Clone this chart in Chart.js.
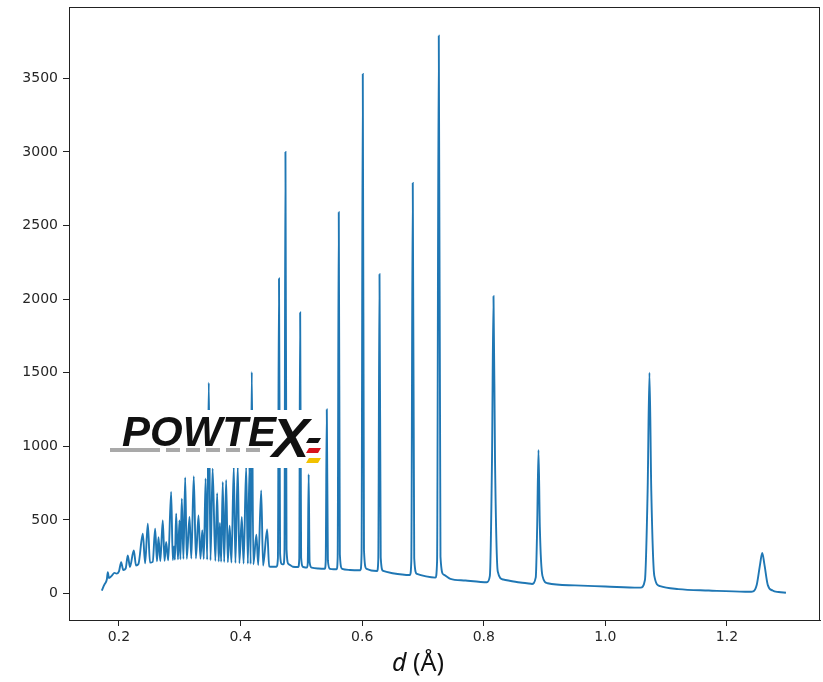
<!DOCTYPE html>
<html>
<head>
<meta charset="utf-8">
<script src="https://cdn.jsdelivr.net/npm/chart.js@4/dist/chart.umd.min.js"></script>
<style>
  body { margin: 0; background: #fff; }
  #wrap { width: 823px; height: 682px; }
</style>
</head>
<body>
<div id="wrap"><canvas id="chart" width="823" height="682"></canvas></div>
<script>
// DATA — d spacing (Å) and counts
const dSpacing = [
  // dense low-d part
  0.1717, 0.176, 0.18, 0.1816, 0.1835, 0.188, 0.1926, 0.196, 0.2, 0.2036,
  0.207, 0.211, 0.2145, 0.218, 0.2244, 0.228, 0.232, 0.2392, 0.243, 0.2474,
  0.251, 0.2555, 0.2595, 0.2625, 0.265, 0.268, 0.272, 0.275, 0.2776, 0.281,
  0.2858, 0.2885, 0.2905, 0.292, 0.294, 0.297, 0.2995, 0.301, 0.3033, 0.306,
  0.3089, 0.3115, 0.316, 0.319, 0.323, 0.3265, 0.3308, 0.334, 0.337, 0.3395,
  0.3425, 0.345, 0.3477, 0.3505, 0.354, 0.3585, 0.3615, 0.364, 0.366, 0.368,
  0.3707, 0.373, 0.3763, 0.379, 0.382, 0.385, 0.3888, 0.3915, 0.3954, 0.398,
  0.402, 0.405, 0.4092, 0.412, 0.4146, 0.4165, 0.4184, 0.421, 0.426, 0.429,
  0.4339, 0.437, 0.4437, 0.447, 0.452,
  // sharp peaks
  0.459, 0.4614, 0.4632, 0.465, 0.468,
  0.4705, 0.4722, 0.4738, 0.4756, 0.479, 0.486,
  0.4948, 0.4965, 0.498, 0.4996, 0.503,
  0.509, 0.5105, 0.512, 0.5135, 0.517, 0.528,
  0.5385, 0.540, 0.5418, 0.5436, 0.547, 0.553,
  0.558, 0.5597, 0.5615, 0.5633, 0.567, 0.58,
  0.597, 0.599, 0.601, 0.603, 0.607, 0.615,
  0.6245, 0.6265, 0.6285, 0.6305, 0.6345, 0.65,
  0.6785, 0.6808, 0.6832, 0.6856, 0.690, 0.705,
  0.7205, 0.7232, 0.726, 0.7288, 0.734, 0.745, 0.77, 0.795,
  0.805, 0.810, 0.8135, 0.816, 0.8185, 0.823, 0.832, 0.86, 0.878,
  0.879, 0.8855, 0.8878, 0.89, 0.8922, 0.8965, 0.905, 0.95, 1.0, 1.055,
  1.058, 1.065, 1.0695, 1.0725, 1.0755, 1.0805, 1.09, 1.12, 1.17, 1.23, 1.24,
  1.243, 1.249, 1.2545, 1.258, 1.2615, 1.267, 1.275, 1.285, 1.297
];
const counts = [
  20, 60, 95, 145, 105, 120, 140, 135, 150, 213,
  160, 170, 259, 180, 293, 190, 200, 406, 205, 474,
  210, 215, 440, 218, 383, 220, 497, 222, 350, 225,
  690, 228, 320, 230, 543, 232, 497, 233, 645, 235,
  788, 236, 520, 238, 797, 238, 531, 236, 430, 234,
  781, 230, 1432, 226, 849, 222, 681, 218, 480, 216,
  758, 214, 772, 212, 460, 210, 860, 208, 860, 206,
  520, 204, 860, 202, 860, 200, 1505, 198, 400, 194,
  701, 190, 436, 185, 182,
  182, 240, 2140, 270, 200,
  198, 280, 3000, 300, 200, 182,
  180, 235, 1910, 245, 180,
  176, 205, 810, 215, 176, 170,
  168, 215, 1250, 225, 168, 165,
  165, 245, 2590, 265, 168, 160,
  158, 270, 3530, 290, 168, 156,
  153, 230, 2170, 245, 153, 138,
  126, 220, 2790, 240, 133, 116,
  108, 220, 3790, 250, 128, 100, 88, 78,
  76, 120, 900, 2020, 900, 150, 95, 75, 66,
  65, 110, 450, 975, 450, 120, 70, 55, 48, 40,
  40, 90, 700, 1500, 700, 120, 50, 30, 20, 12, 12,
  14, 60, 200, 275, 200, 60, 20, 10, 5
];
const xTickValues = [0.2, 0.4, 0.6, 0.8, 1.0, 1.2];
const yTickValues = [0, 500, 1000, 1500, 2000, 2500, 3000, 3500];

// FRAME round the plot (top and right sides too)
const framePlugin = {
  id: "frame",
  afterDraw(chart) {
    const a = chart.chartArea, c = chart.ctx;
    c.save();
    c.strokeStyle = "#222";
    c.lineWidth = 1;
    c.strokeRect(a.left + 0.5, a.top + 0.5, a.right - a.left - 1, a.bottom - a.top);
    c.restore();
  }
};

// AXIS TITLE with italic d
const titlePlugin = {
  id: "xtitle",
  afterDraw(chart) {
    const c = chart.ctx;
    c.save();
    c.fillStyle = "#111";
    c.textBaseline = "alphabetic";
    const f1 = "italic 25px 'Noto Sans'";
    const f2 = "25px 'Noto Sans'";
    c.font = f1; const w1 = c.measureText("d").width;
    c.font = f2; const w2 = c.measureText(" (Å)").width;
    let x = 418 - (w1 + w2) / 2;
    c.font = f1; c.fillText("d", x, 671);
    c.font = f2; c.fillText(" (Å)", x + w1, 671);
    c.restore();
  }
};

// POWTEX LOGO
const logoPlugin = {
  id: "logo",
  afterDatasetsDraw(chart) {
    const c = chart.ctx;
    c.save();
    c.fillStyle = "#fff";
    c.fillRect(106, 410, 216, 58);

    // grey dashes
    c.strokeStyle = "#a9a9a9";
    c.lineWidth = 4;
    c.setLineDash([50, 6, 14, 6, 14, 6, 14, 6, 14, 6, 14, 6, 14, 6]);
    c.beginPath();
    c.moveTo(110, 450);
    c.lineTo(262, 450);
    c.stroke();
    c.setLineDash([]);

    c.fillStyle = "#111";
    c.font = "italic bold 42px 'Liberation Sans'";
    c.textBaseline = "alphabetic";
    c.fillText("POWTE", 122, 446);
    const w = c.measureText("POWTE").width;
    c.font = "italic bold 56px 'Liberation Sans'";
    c.fillText("X", 122 + w - 4, 457);

    // flag bars
    const bars = [["#111", 438], ["#d8141c", 448], ["#f2c200", 458]];
    bars.forEach(([col, y]) => {
      c.fillStyle = col;
      c.beginPath();
      c.moveTo(306, y + 5);
      c.lineTo(309, y);
      c.lineTo(321, y);
      c.lineTo(318, y + 5);
      c.closePath();
      c.fill();
    });
    c.restore();
  }
};

const tickFont = { family: "'DejaVu Sans'", size: 14 };

new Chart(document.getElementById("chart").getContext("2d"), {
  type: "line",
  data: {
    datasets: [{
      data: dSpacing.map((d, i) => ({ x: d, y: counts[i] })),
      borderColor: "#1f77b4",
      borderWidth: 1.9,
      pointRadius: 0,
      fill: false,
      cubicInterpolationMode: "monotone"
    }]
  },
  options: {
    responsive: false,
    animation: false,
    layout: { padding: { left: 0, right: 3, top: 7, bottom: 0 } },
    plugins: { legend: { display: false }, tooltip: { enabled: false } },
    scales: {
      x: {
        type: "linear",
        min: 0.1178,
        max: 1.353,
        afterBuildTicks: s => { s.ticks = xTickValues.map(v => ({ value: v })); },
        afterFit: s => { s.height = 62; s.paddingLeft = 0; s.paddingRight = 0; },
        ticks: {
          font: tickFont, color: "#262626", padding: 3, maxRotation: 0, autoSkip: false,
          callback: v => Number(v).toFixed(1)
        },
        grid: { drawOnChartArea: false, drawTicks: true, tickLength: 6, color: "#222" },
        border: { display: true, color: "#222", width: 1 }
      },
      y: {
        min: -180,
        max: 3985,
        afterBuildTicks: s => { s.ticks = yTickValues.map(v => ({ value: v })); },
        afterFit: s => { s.width = 69; s.paddingTop = 0; s.paddingBottom = 0; },
        ticks: {
          font: tickFont, color: "#262626", padding: 5, autoSkip: false,
          callback: v => String(v)
        },
        grid: { drawOnChartArea: false, drawTicks: true, tickLength: 6, color: "#222" },
        border: { display: true, color: "#222", width: 1 }
      }
    }
  },
  plugins: [logoPlugin, framePlugin, titlePlugin]
});
</script>
</body>
</html>
